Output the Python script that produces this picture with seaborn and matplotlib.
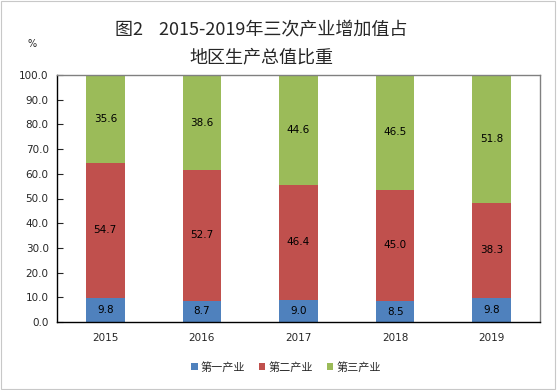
import matplotlib
matplotlib.use('Agg')
import matplotlib.pyplot as plt
import seaborn as sns
import pandas as pd
import numpy as np
from matplotlib.patches import Patch, Rectangle

# 数据
years = ['2015', '2016', '2017', '2018', '2019']
primary = [9.8, 8.7, 9.0, 8.5, 9.8]
secondary = [54.7, 52.7, 46.4, 45.0, 38.3]
tertiary = [35.6, 38.6, 44.6, 46.5, 51.8]
names = ['第一产业', '第二产业', '第三产业']
colors = ['#4F81BD', '#C0504D', '#9BBB59']

sns.set_style('white')
plt.rcParams['font.family'] = ['Noto Sans CJK SC', 'DejaVu Sans']

df = pd.DataFrame({'year': years, 'p': primary, 's': secondary, 't': tertiary})
df['ps'] = df['p'] + df['s']
df['pst'] = df['ps'] + df['t']

fig = plt.figure(figsize=(5.57, 3.90), dpi=100)
ax = fig.add_axes([57/557, 1 - 322/390, 483/557, 247/390])

# 叠加画法：先画总高，再画前两项，最后第一项
for col, c in [('pst', colors[2]), ('ps', colors[1]), ('p', colors[0])]:
    sns.barplot(data=df, x='year', y=col, color=c, width=0.4, saturation=1,
                edgecolor='none', linewidth=0, ax=ax)

for i in range(len(years)):
    for val, mid in [(primary[i], primary[i] / 2),
                     (secondary[i], primary[i] + secondary[i] / 2),
                     (tertiary[i], primary[i] + secondary[i] + tertiary[i] / 2)]:
        ax.text(i, mid, f'{val:.1f}', ha='center', va='center', fontsize=7.5,
                family='DejaVu Sans', color='black')

ax.set_ylim(0, 100)
ax.set_xlim(-0.5, 4.5)
ax.set_yticks(np.arange(0, 101, 10))
ax.set_yticklabels([f'{v:.1f}' for v in np.arange(0, 101, 10)], family='DejaVu Sans', fontsize=7.5)
ax.set_xticklabels(years, family='DejaVu Sans', fontsize=7.5)
ax.set_xlabel('')
ax.set_ylabel('')
ax.tick_params(axis='y', direction='in', length=4, width=0.8, left=True, pad=6)
ax.tick_params(axis='x', length=0, pad=8)
for s in ['top', 'right']:
    ax.spines[s].set_color('#808080')
    ax.spines[s].set_linewidth(1.0)
for s in ['left', 'bottom']:
    ax.spines[s].set_color('black')
    ax.spines[s].set_linewidth(1.0)

fig.text(261/557, 1 - 30/390, '图2    2015-2019年三次产业增加值占', ha='center', va='center', fontsize=13)
fig.text(261/557, 1 - 57/390, '地区生产总值比重', ha='center', va='center', fontsize=13)
fig.text(32/557, 1 - 44/390, '%', ha='center', va='center', fontsize=7, family='DejaVu Sans')

handles = [Patch(facecolor=c, edgecolor='none') for c in colors]
fig.legend(handles, names, loc='center', bbox_to_anchor=(286/557, 1 - 367/390), ncol=3,
           frameon=False, fontsize=8, handlelength=0.6, handleheight=0.6,
           handletextpad=0.3, columnspacing=1.2)

fig.patches.append(Rectangle((0.002, 0.003), 0.995, 0.994, transform=fig.transFigure,
                             fill=False, edgecolor='#C8C8C8', linewidth=0.8))

fig.savefig('out.png', dpi=100)
